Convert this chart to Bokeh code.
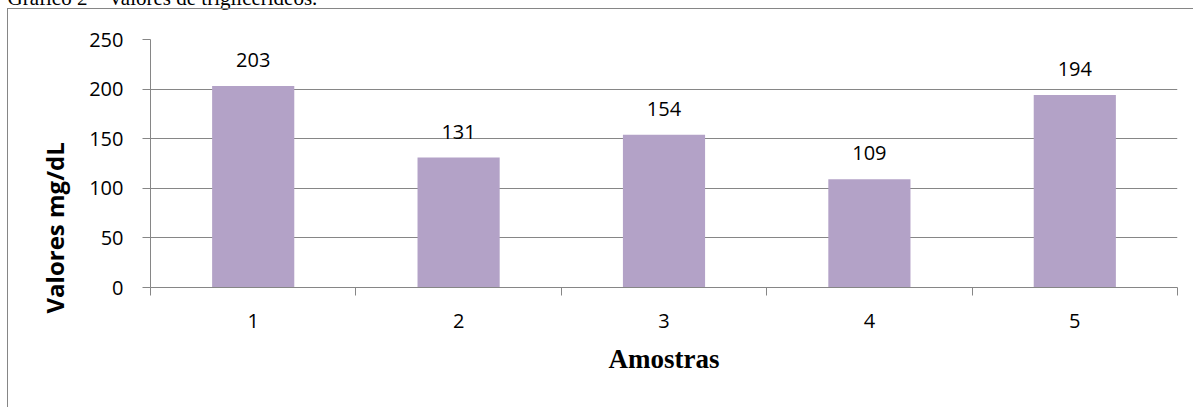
from bokeh.plotting import figure
from bokeh.models import (FixedTicker, LabelSet, Range1d, ColumnDataSource, Title,
                          InlineStyleSheet)
from bokeh.core.properties import value
from bokeh.embed import file_html
from bokeh.resources import INLINE

# ---- data ----
samples = ["1", "2", "3", "4", "5"]
positions = [1, 2, 3, 4, 5]
values = [203, 131, 154, 109, 194]
y_ticks = [0, 50, 100, 150, 200, 250]
caption = "Gráfico 2 – Valores de triglicerídeos."
x_title = "Amostras"
y_title = "Valores mg/dL"

W, H = 1193, 407
SHIFT = 50            # hidden strip above the window (caption is cut off there, as in the source)
FL, FR, FT, FB = 150, 1177, 39, 287   # visible frame edges
GREY = "#868686"
BAR = "#B3A2C7"

x0, x1 = positions[0] - 0.5, positions[-1] + 0.5
y0, y1 = y_ticks[0], y_ticks[-1]

p = figure(width=W, height=H + SHIFT, output_backend="svg", toolbar_location=None,
           x_range=Range1d(x0, x1), y_range=Range1d(y0, y1),
           min_border_left=FL, min_border_right=W - FR,
           min_border_top=FT + SHIFT, min_border_bottom=H - FB)
p.styles = {"margin-top": f"-{SHIFT}px"}
p.stylesheets = [InlineStyleSheet(css=f"""
:host {{ position: relative; }}
:host::after {{
  content: ""; position: absolute; left: 7px; top: {SHIFT + 8}px; right: 0; bottom: 0;
  border-left: 1px solid {GREY}; border-top: 1px solid {GREY};
  pointer-events: none; z-index: 10;
}}
""")]
p.outline_line_color = None
p.background_fill_color = "white"
p.border_fill_color = "white"

# grid
p.xgrid.grid_line_color = None
p.ygrid.ticker = FixedTicker(ticks=y_ticks)
p.ygrid.grid_line_color = GREY
p.ygrid.grid_line_width = 1

# y axis
yax = p.yaxis[0]
yax.ticker = FixedTicker(ticks=y_ticks)
yax.axis_line_color = GREY
yax.major_tick_line_color = GREY
yax.major_tick_out = 8
yax.major_tick_in = 0
yax.minor_tick_line_color = None
yax.major_label_text_font = "Open Sans"
yax.major_label_text_font_size = "20px"
yax.major_label_text_color = "black"
yax.major_label_standoff = 19

# x axis
xax = p.xaxis[0]
bounds = [x - 0.5 for x in positions] + [positions[-1] + 0.5]
xax.ticker = FixedTicker(ticks=positions, minor_ticks=bounds)
xax.major_label_overrides = {pos: s for pos, s in zip(positions, samples)}
xax.axis_line_color = GREY
xax.major_tick_line_color = None
xax.major_tick_out = 8
xax.major_tick_in = 0
xax.minor_tick_line_color = GREY
xax.minor_tick_out = 8
xax.minor_tick_in = 0
xax.major_label_text_font = "Open Sans"
xax.major_label_text_font_size = "20px"
xax.major_label_text_color = "black"
xax.major_label_standoff = 18
xax.axis_label = x_title
xax.axis_label_text_font = "Liberation Serif"
xax.axis_label_text_font_style = "bold"
xax.axis_label_text_font_size = "27px"
xax.axis_label_text_color = "black"
xax.axis_label_standoff = 13

# bars
src = ColumnDataSource(dict(x=positions, top=values, lab=[str(v) for v in values]))
p.vbar(x="x", top="top", width=0.4, source=src, fill_color=BAR, line_color=None)

p.add_layout(LabelSet(x="x", y="top", text="lab", source=src, text_align="center",
                      text_baseline="alphabetic", y_offset=19,
                      text_font=value("Open Sans"), text_font_size=value("20px"),
                      text_color=value("black")))

# y title (side panel)
p.add_layout(Title(text=y_title, align="left", offset=-26, standoff=32,
                   text_font="Open Sans", text_font_style="bold", text_font_size="24px",
                   text_color="black"), "left")

# caption above the chart box (only its lower part is visible, as in the source)
p.add_layout(Title(text=caption, align="left", offset=-143, standoff=59,
                   text_font="Liberation Serif", text_font_style="normal",
                   text_font_size="21px", text_color="black"), "above")

open("out.html", "w").write(file_html(p, INLINE))
